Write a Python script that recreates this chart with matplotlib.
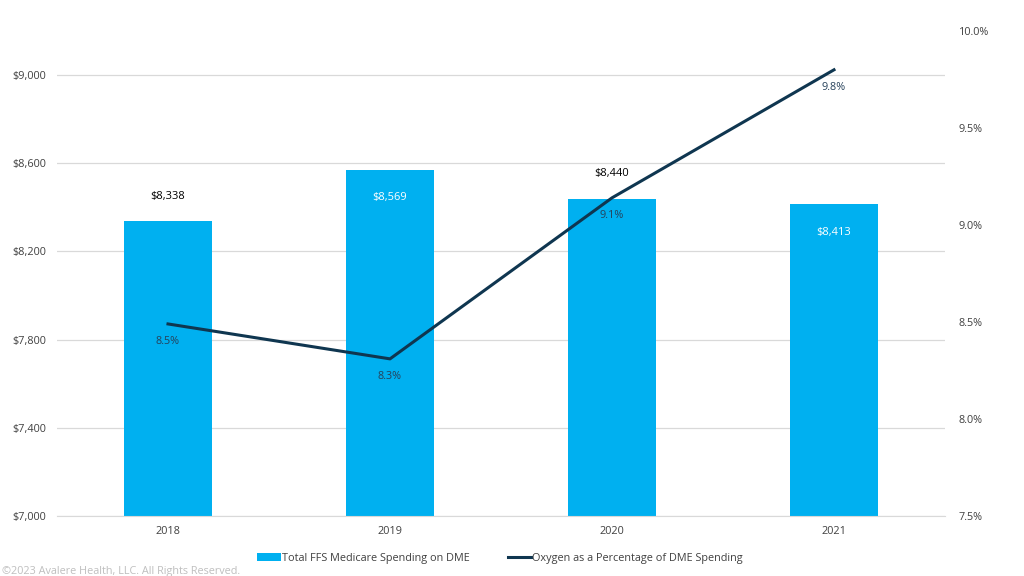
import matplotlib
matplotlib.use("Agg")
import matplotlib.pyplot as plt
from matplotlib.ticker import FuncFormatter
from matplotlib.patches import Patch
from matplotlib.lines import Line2D

years = ["2018", "2019", "2020", "2021"]
spending = [8338, 8569, 8440, 8413]
oxygen_pct = [8.49, 8.31, 9.14, 9.80]
oxygen_labels = ["8.5%", "8.3%", "9.1%", "9.8%"]
left_ticks = [7000, 7400, 7800, 8200, 8600, 9000]
right_ticks = [7.5, 8.0, 8.5, 9.0, 9.5, 10.0]

bar_color = "#00B0F0"
line_color = "#0F3650"
tick_color = "#595959"

plt.rcParams['font.family'] = ['Open Sans', 'DejaVu Sans']

fig = plt.figure(figsize=(10.24, 5.76), dpi=100)
ax = fig.add_axes([57/1024, 60/576, (945-57)/1024, (516-31)/576])
x = list(range(len(years)))
ax.bar(x, spending, width=0.4, color=bar_color, zorder=2)
ax.set_xlim(-0.5, 3.5)
ax.set_ylim(7000, 9200)
ax.set_yticks(left_ticks)
ax.yaxis.set_major_formatter(FuncFormatter(lambda v, p: f"${v:,.0f}"))
ax.set_xticks(x)
ax.set_xticklabels(years)
ax.grid(axis='y', color='#D9D9D9', linewidth=0.9, zorder=0)
ax.set_axisbelow(True)
for s in ax.spines.values():
    s.set_visible(False)
ax.spines['bottom'].set_visible(True)
ax.spines['bottom'].set_color('#D9D9D9')
ax.tick_params(axis='both', length=0, labelsize=7.8, colors=tick_color)
ax.tick_params(axis='y', pad=8)
ax.tick_params(axis='x', pad=7)
for lbl in ax.get_xticklabels() + ax.get_yticklabels():
    lbl.set_color('#404040')

# bar labels: outside for 2018/2020, inside for 2019/2021
inside = [False, True, False, True]
for xi, v, ins in zip(x, spending, inside):
    if ins:
        ax.annotate(f"${v:,.0f}", (xi, v), xytext=(0, -20), textcoords='offset points',
                    ha='center', va='center', fontsize=8, color='white', zorder=5)
    else:
        ax.annotate(f"${v:,.0f}", (xi, v), xytext=(0, 18), textcoords='offset points',
                    ha='center', va='center', fontsize=8, color='black', zorder=5)

ax2 = ax.twinx()
ax2.set_ylim(7.5, 10.0)
ax2.set_yticks(right_ticks)
ax2.yaxis.set_major_formatter(FuncFormatter(lambda v, p: f"{v:.1f}%"))
ax2.plot(x, oxygen_pct, color=line_color, linewidth=2.2, zorder=4)
for s in ax2.spines.values():
    s.set_visible(False)
ax2.tick_params(axis='y', length=0, labelsize=7.8, pad=10)
for lbl in ax2.get_yticklabels():
    lbl.set_color('#404040')
for xi, v, t in zip(x, oxygen_pct, oxygen_labels):
    ax2.annotate(t, (xi, v), xytext=(0, -12.5), textcoords='offset points',
                 ha='center', va='center', fontsize=7.8, color='#26415A', zorder=5)

handles = [Patch(facecolor=bar_color, edgecolor='none'),
           Line2D([0], [0], color=line_color, linewidth=2.2)]
fig.legend(handles, ["Total FFS Medicare Spending on DME", "Oxygen as a Percentage of DME Spending"],
           loc='center', bbox_to_anchor=(500/1024, 1 - 558/576), ncol=2, frameon=False,
           fontsize=7.8, handlelength=2.2, handleheight=0.7, columnspacing=3.5, handletextpad=0.1,
           labelcolor='#404040')

fig.text(2/1024, 1 - 571.5/576, "\u00a92023 Avalere Health, LLC. All Rights Reserved.",
         fontsize=7.8, color='#BFBFBF', ha='left', va='center')

fig.savefig("out.png", dpi=100)
